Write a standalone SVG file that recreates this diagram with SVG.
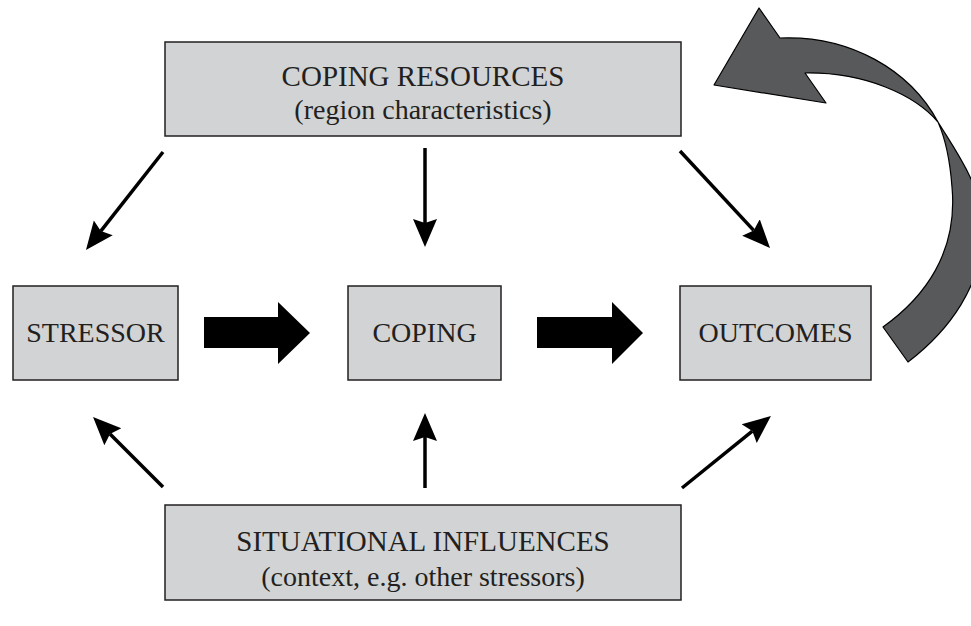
<svg xmlns="http://www.w3.org/2000/svg" width="971" height="626" viewBox="0 0 971 626">
<style>
.box{fill:#d1d3d4;stroke:#231f20;stroke-width:1.5}
.t{font-family:"Liberation Serif","Times New Roman",serif;font-size:28px;fill:#231f20;text-anchor:middle}
.t2{font-size:29px}
.ln{stroke:#000;stroke-width:3.5;fill:none}
.blk{fill:#000}
.curl{fill:#58595b;stroke:#000;stroke-width:1.2;stroke-linejoin:round}
</style>
<defs>
<marker id="ah" markerUnits="userSpaceOnUse" markerWidth="32" markerHeight="28" viewBox="0 -14 32 28" refX="4" refY="0" orient="auto">
<path d="M0,-12 L28,0 L0,12 L4,0 Z" fill="#000"/>
</marker>
</defs>
<rect width="971" height="626" fill="#fff"/>
<g id="connectors">
<line class="ln" x1="163" y1="152" x2="100.8" y2="231.1" marker-end="url(#ah)"/>
<line class="ln" x1="425" y1="148" x2="425" y2="223" marker-end="url(#ah)"/>
<line class="ln" x1="680" y1="151" x2="753.7" y2="230.4" marker-end="url(#ah)"/>
<line class="ln" x1="163" y1="487" x2="110" y2="434" marker-end="url(#ah)"/>
<line class="ln" x1="425" y1="488" x2="425" y2="437" marker-end="url(#ah)"/>
<line class="ln" x1="682" y1="488" x2="752.3" y2="431.1" marker-end="url(#ah)"/>
<path class="blk" d="M204,317 L278,317 L278,302 L310,333 L278,364 L278,348 L204,348 Z"/>
<path class="blk" d="M537,317 L612,317 L612,302 L643,333 L612,364 L612,348 L537,348 Z"/>
<path class="curl" d="M883,327 C925,297 958,252 952,187 C950,160 946,140 938,122 C915,95 865,72 805,73 L826,103 L714,85 L759,8 L780,38 C850,35 910,70 938,122 C955,150 985,190 983,232 C982,285 950,330 908,362 Z"/>
</g>
<g id="coping-resources">
<rect class="box" x="165" y="42" width="516" height="94"/>
<text class="t t2" x="423" y="86">COPING RESOURCES</text>
<text class="t" x="423" y="119">(region characteristics)</text>
</g>
<g id="stressor">
<rect class="box" x="13" y="286" width="165" height="94"/>
<text class="t" x="95.5" y="342">STRESSOR</text>
</g>
<g id="coping">
<rect class="box" x="348" y="286" width="153" height="94"/>
<text class="t" x="424.5" y="342">COPING</text>
</g>
<g id="outcomes">
<rect class="box" x="680" y="286" width="191" height="94"/>
<text class="t" x="775.5" y="342">OUTCOMES</text>
</g>
<g id="situational-influences">
<rect class="box" x="165" y="505" width="516" height="95"/>
<text class="t t2" x="423" y="551">SITUATIONAL INFLUENCES</text>
<text class="t" x="423" y="586">(context, e.g. other stressors)</text>
</g>
</svg>
